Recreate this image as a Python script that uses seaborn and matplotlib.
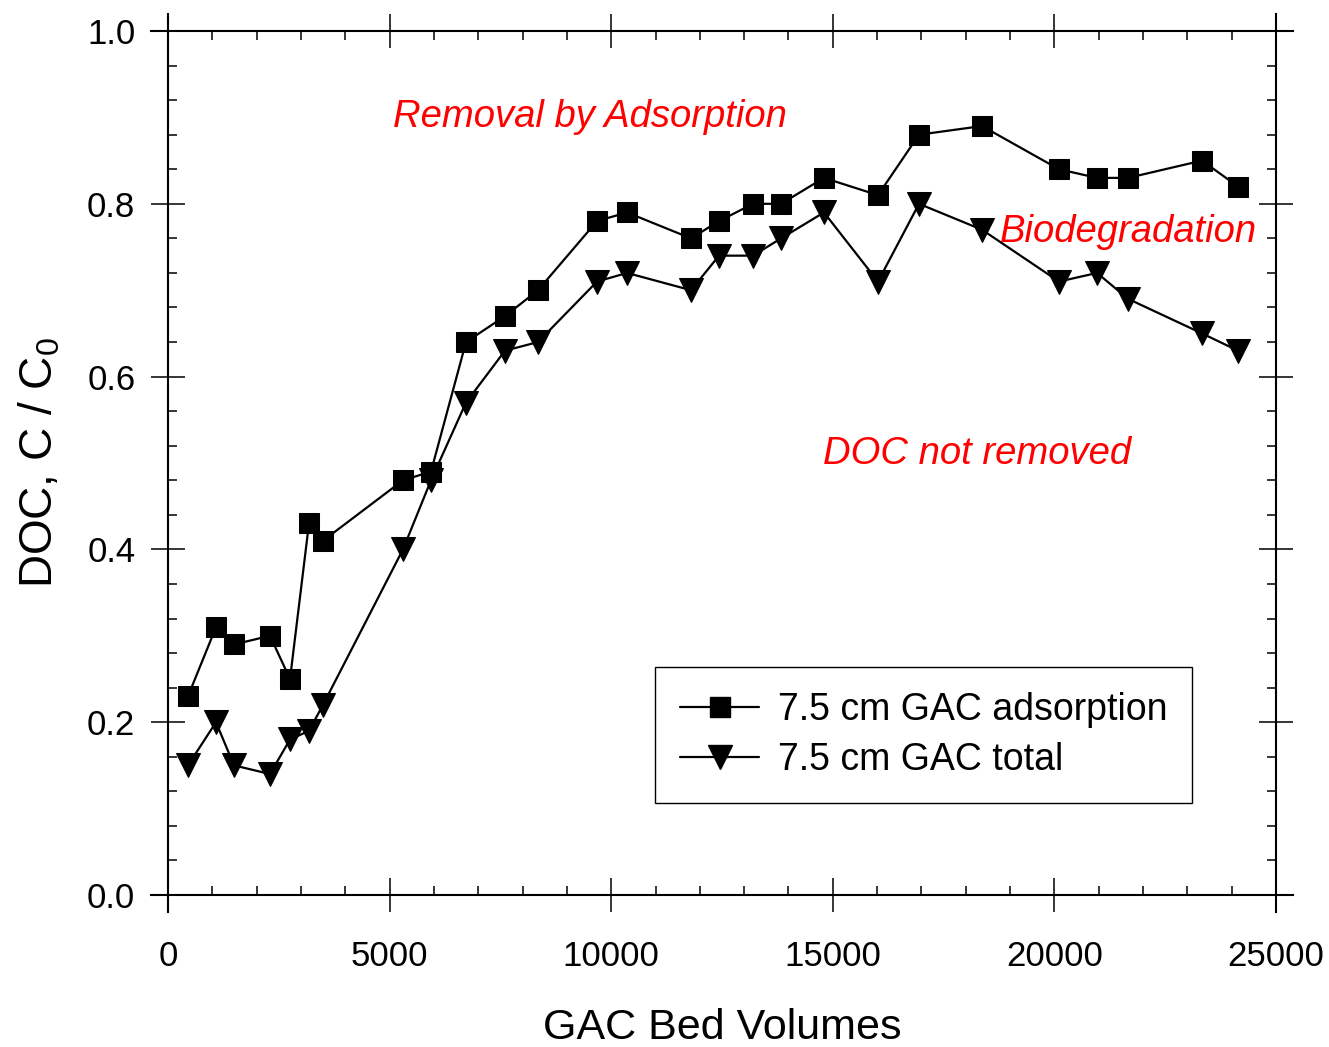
import matplotlib
matplotlib.use("Agg")
import matplotlib.pyplot as plt
import seaborn as sns
import pandas as pd
from matplotlib.ticker import MultipleLocator, FormatStrFormatter
from matplotlib.lines import Line2D

# GAC bed volumes treated
bed_volumes = [451, 1083, 1489, 2301, 2753, 3181, 3497, 5302, 5934, 6724,
               7604, 8349, 9680, 10357, 11801, 12433, 13200, 13832, 14801,
               16020, 16945, 18367, 20104, 20962, 21661, 23330, 24143]

# DOC breakthrough C/C0
doc_adsorption = [0.23, 0.31, 0.29, 0.30, 0.25, 0.43, 0.41, 0.48, 0.49, 0.64,
                  0.67, 0.70, 0.78, 0.79, 0.76, 0.78, 0.80, 0.80, 0.83,
                  0.81, 0.88, 0.89, 0.84, 0.83, 0.83, 0.85, 0.82]
doc_total = [0.15, 0.20, 0.15, 0.14, 0.18, 0.19, 0.22, 0.40, 0.48, 0.57,
             0.63, 0.64, 0.71, 0.72, 0.70, 0.74, 0.74, 0.76, 0.79,
             0.71, 0.80, 0.77, 0.71, 0.72, 0.69, 0.65, 0.63]

series_labels = ["7.5 cm GAC adsorption", "7.5 cm GAC total"]

sns.set_theme(style="white")
plt.rcParams["font.family"] = ["Liberation Sans", "DejaVu Sans"]
plt.rcParams["mathtext.fontset"] = "custom"
plt.rcParams["mathtext.rm"] = "Liberation Sans"
plt.rcParams["text.color"] = "black"
plt.rcParams["axes.labelcolor"] = "black"
plt.rcParams["xtick.color"] = "black"
plt.rcParams["ytick.color"] = "black"

df = pd.DataFrame({
    "bv": bed_volumes * 2,
    "doc": doc_adsorption + doc_total,
    "series": [series_labels[0]] * len(bed_volumes) + [series_labels[1]] * len(bed_volumes),
})

SQ_SIZE = 15
TRI_SIZE = 17

fig = plt.figure(figsize=(13.29, 10.47), dpi=100)
ax = fig.add_axes([151 / 1329, 1 - 912 / 1047, (1293 - 151) / 1329, (912 - 14) / 1047])

sns.lineplot(data=df[df.series == series_labels[0]], x="bv", y="doc",
             marker="s", markersize=SQ_SIZE, color="black",
             markeredgecolor="black", linewidth=1.6, sort=False, ax=ax)
sns.lineplot(data=df[df.series == series_labels[1]], x="bv", y="doc",
             marker="v", markersize=TRI_SIZE, color="black",
             markeredgecolor="black", linewidth=1.6, sort=False, ax=ax)

xpad = 17 / 1108 * 25000
ypad = 17 / 863
ax.set_xlim(-xpad, 25000 + xpad)
ax.set_ylim(-ypad, 1 + ypad)

for side, pos in [("left", 0), ("right", 25000), ("bottom", 0), ("top", 1)]:
    ax.spines[side].set_position(("data", pos))
    ax.spines[side].set_visible(True)
    ax.spines[side].set_color("black")
    ax.spines[side].set_linewidth(1.5)

ax.xaxis.set_major_locator(MultipleLocator(5000))
ax.xaxis.set_minor_locator(MultipleLocator(1000))
ax.yaxis.set_major_locator(MultipleLocator(0.2))
ax.yaxis.set_minor_locator(MultipleLocator(0.04))
ax.yaxis.set_major_formatter(FormatStrFormatter("%.1f"))

ax.tick_params(which="major", direction="inout", length=25, width=1.1,
               color="black", labelsize=25, labelcolor="black",
               top=True, right=True, bottom=True, left=True,
               labeltop=False, labelright=False)
ax.tick_params(which="minor", direction="in", length=6.5, width=1.1,
               color="black", top=True, right=True, bottom=True, left=True)
ax.tick_params(axis="x", which="major", pad=20)
ax.tick_params(axis="y", which="major", pad=11)

ax.set_xlabel("GAC Bed Volumes", fontsize=31, labelpad=25, color="black")
ax.set_ylabel("DOC, C / C$_0$", fontsize=33, labelpad=18, color="black")

# Region annotations
txt = dict(color="red", style="italic", fontsize=27.5, ha="center", va="center")
ax.text((590 - 168) / 1108 * 25000, (895 - 118) / 863, "Removal by Adsorption", **txt)
ax.text((1128 - 168) / 1108 * 25000, (895 - 233) / 863, "Biodegradation", **txt)
ax.text((977 - 168) / 1108 * 25000, (895 - 455) / 863, "DOC not removed", **txt)

handles = [
    Line2D([], [], color="black", marker="s", markersize=SQ_SIZE, linewidth=1.6,
           label=series_labels[0]),
    Line2D([], [], color="black", marker="v", markersize=TRI_SIZE, linewidth=1.6,
           label=series_labels[1]),
]
leg = ax.legend(handles=handles, loc="upper left",
                bbox_to_anchor=((655 - 151) / (1293 - 151), 1 - (667 - 14) / (912 - 14)),
                fontsize=27, frameon=True, fancybox=False, edgecolor="black",
                framealpha=1, handlelength=2.1, handletextpad=0.5,
                labelspacing=0.37, borderpad=0.67, borderaxespad=0)
leg.get_frame().set_linewidth(1.0)
for t in leg.get_texts():
    t.set_color("black")

fig.savefig("out.png", dpi=100)
